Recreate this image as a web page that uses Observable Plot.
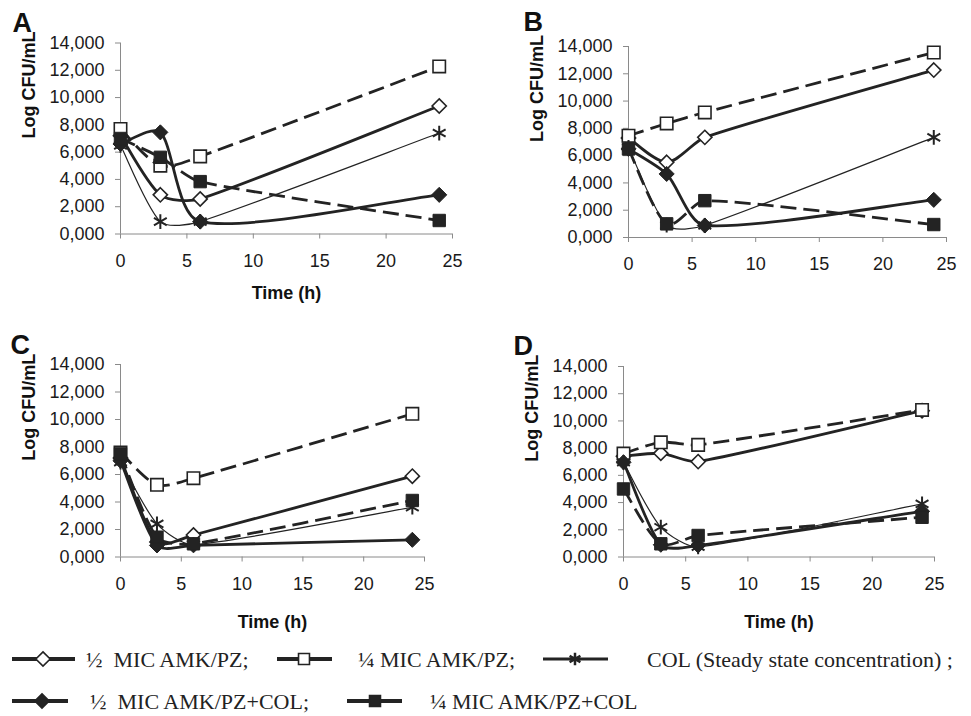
<!DOCTYPE html>
<html><head><meta charset="utf-8">
<script src="https://cdn.jsdelivr.net/npm/d3@7"></script>
<script src="https://cdn.jsdelivr.net/npm/@observablehq/plot@0.6"></script>
<style>
html,body{margin:0;padding:0;background:#fff;}
#root{position:relative;width:971px;height:716px;overflow:hidden;background:#fff;}
.panel{position:absolute;}
#legend{position:absolute;left:0;top:630px;}
</style></head><body><div id="root"></div>
<script>
// ---------------- data ----------------
const times = [0, 3, 6, 24];
const xTicks = [0, 5, 10, 15, 20, 25];
const yTicks = [0, 2, 4, 6, 8, 10, 12, 14];
const seriesLabels = ["½  MIC AMK/PZ;", "¼ MIC AMK/PZ;", "COL (Steady state concentration) ;", "½  MIC AMK/PZ+COL;", "¼ MIC AMK/PZ+COL"];
const panelLetters = ["A", "B", "C", "D"];

// Panel A (Log CFU/mL at 0, 3, 6, 24 h)
const A_half       = [7.2, 2.87, 2.57, 9.38];
const A_quarter    = [7.7, 5.01, 5.69, 12.28];
const A_col        = [6.5, 0.91, 0.91, 7.40];
const A_halfCol    = [6.6, 7.45, 0.91, 2.87];
const A_quarterCol = [7.0, 5.62, 3.84, 0.99];
// Panel B
const B_half       = [7.3, 5.51, 7.34, 12.27];
const B_quarter    = [7.46, 8.36, 9.17, 13.56];
const B_col        = [6.6, 0.9, 0.88, 7.34];
const B_halfCol    = [6.5, 4.66, 0.88, 2.76];
const B_quarterCol = [6.49, 1.0, 2.7, 0.95];
// Panel C
const C_half       = [7.2, 1.1, 1.6, 5.88];
const C_quarter    = [7.6, 5.25, 5.73, 10.41];
const C_col        = [6.9, 2.41, 0.9, 3.62];
const C_halfCol    = [7.0, 0.84, 0.85, 1.25];
const C_quarterCol = [7.5, 1.44, 0.96, 4.11];
// Panel D
const D_half       = [7.4, 7.62, 7.01, 10.75];
const D_quarter    = [7.6, 8.43, 8.24, 10.81];
const D_col        = [6.96, 2.19, 0.75, 3.9];
const D_halfCol    = [6.96, 0.9, 0.85, 3.36];
const D_quarterCol = [5.0, 0.97, 1.58, 2.92];

// ---------------- styles / layout ----------------
const INK = "#232323";
const AXIS = "#8a8a8a";
const seriesStyles = [
  {symbol: "diamond2", fill: "white", dash: null, width: 2.8, r: 6.4, sw: 1.6},
  {symbol: "square", fill: "white", dash: "16,7", width: 2.8, r: 7, sw: 1.6},
  {symbol: "asterisk", fill: "none", dash: null, width: 1.2, r: 7, sw: 2},
  {symbol: "diamond2", fill: INK, dash: null, width: 2.8, r: 6.8, sw: 1},
  {symbol: "square", fill: INK, dash: "16,7", width: 2.8, r: 7, sw: 1}
];
const panels = [
  {vals: [A_half, A_quarter, A_col, A_halfCol, A_quarterCol], left: 0, top: 0, width: 480, height: 310,
   mL: 120, mR: 28, mT: 42.5, mB: 76.5, letterDx: -108, letterDy: -20, timeDy: 59.5, showTime: true},
  {vals: [B_half, B_quarter, B_col, B_halfCol, B_quarterCol], left: 480, top: 0, width: 491, height: 310,
   mL: 148, mR: 25, mT: 46, mB: 73, letterDx: -105, letterDy: -24, timeDy: 59.5, showTime: false},
  {vals: [C_half, C_quarter, C_col, C_halfCol, C_quarterCol], left: 0, top: 300, width: 480, height: 340,
   mL: 120, mR: 56, mT: 64, mB: 83.5, letterDx: -110, letterDy: -19, timeDy: 65.5, showTime: true},
  {vals: [D_half, D_quarter, D_col, D_halfCol, D_quarterCol], left: 480, top: 300, width: 491, height: 340,
   mL: 143, mR: 37, mT: 66, mB: 83.5, letterDx: -110, letterDy: -20, timeDy: 65.5, showTime: true}
];

// Spreadsheet-style smoothing: cardinal tangents (1/6) with control arms
// limited relative to the adjacent segment length (avoids loops on short segments).
function SmoothCurve(context) { this._context = context; }
SmoothCurve.prototype = {
  areaStart() {}, areaEnd() {},
  lineStart() { this._pts = []; },
  point(x, y) { this._pts.push([+x, +y]); },
  lineEnd() {
    const p = this._pts, n = p.length, ctx = this._context, c = 0.25;
    if (!n) return;
    ctx.moveTo(p[0][0], p[0][1]);
    if (n === 1) return;
    const tan = i => {
      const a = p[Math.max(i - 1, 0)], b = p[Math.min(i + 1, n - 1)];
      return [(b[0] - a[0]) / 6, (b[1] - a[1]) / 6];
    };
    const clamp = (t, d) => {
      const m = Math.hypot(t[0], t[1]);
      const s = m > c * d ? (c * d) / m : 1;
      return [t[0] * s, t[1] * s];
    };
    for (let i = 0; i < n - 1; i++) {
      const d = Math.hypot(p[i + 1][0] - p[i][0], p[i + 1][1] - p[i][1]);
      const a = clamp(tan(i), d), b = clamp(tan(i + 1), d);
      ctx.bezierCurveTo(p[i][0] + a[0], p[i][1] + a[1], p[i + 1][0] - b[0], p[i + 1][1] - b[1], p[i + 1][0], p[i + 1][1]);
    }
  }
};
const curveSmooth = ctx => new SmoothCurve(ctx);

const fmtY = d => d.toFixed(3).replace(".", ",");
const root = document.getElementById("root");
const SANS = "'Liberation Sans', Arial, sans-serif";

panels.forEach((p, pi) => {
  const marks = [
    Plot.ruleY([0], {x1: 0, x2: 25, stroke: AXIS, strokeWidth: 1}),
    Plot.ruleX([0], {y1: 0, y2: 14, stroke: AXIS, strokeWidth: 1}),
    Plot.axisX({ticks: xTicks, tickSize: 5, tickPadding: 15, stroke: AXIS, fill: "#1a1a1a", label: null,
      fontSize: 18, fontFamily: SANS, tickFormat: d => String(d)}),
    Plot.axisY({ticks: yTicks, tickSize: 5, tickPadding: 11, stroke: AXIS, fill: "#1a1a1a", label: null,
      fontSize: 18, fontFamily: SANS, tickFormat: fmtY})
  ];
  p.vals.forEach((arr, si) => {
    const st = seriesStyles[si];
    const rows = times.map((t, j) => ({t, v: arr[j]}));
    marks.push(Plot.line(rows, {x: "t", y: "v", curve: curveSmooth, stroke: INK, strokeWidth: st.width,
      strokeDasharray: st.dash || undefined, strokeLinecap: st.dash ? "butt" : "round"}));
    marks.push(Plot.dot(rows, {x: "t", y: "v", symbol: st.symbol, r: st.r, fill: st.fill, stroke: INK, strokeWidth: st.sw}));
  });
  marks.push(Plot.text([panelLetters[pi]], {text: d => d, frameAnchor: "top-left", dx: p.letterDx, dy: p.letterDy,
    textAnchor: "start", lineAnchor: "middle", fontSize: 27, fontWeight: "bold", fontFamily: SANS, fill: "#111"}));
  marks.push(Plot.text(["Log CFU/mL"], {text: d => d, frameAnchor: "left", dx: -91, rotate: -90,
    lineAnchor: "middle", fontSize: 18, fontWeight: "bold", fontFamily: SANS, fill: "#111"}));
  if (p.showTime) marks.push(Plot.text(["Time (h)"], {text: d => d, frameAnchor: "bottom", dy: p.timeDy,
    lineAnchor: "middle", fontSize: 18, fontWeight: "bold", fontFamily: SANS, fill: "#111"}));

  const chart = Plot.plot({
    width: p.width, height: p.height,
    marginLeft: p.mL, marginRight: p.mR, marginTop: p.mT, marginBottom: p.mB,
    x: {domain: [0, 25]},
    y: {domain: [0, 14]},
    style: {fontFamily: SANS, fontSize: "18px", background: "transparent", overflow: "visible", color: "#1a1a1a"},
    marks
  });
  const div = document.createElement("div");
  div.className = "panel";
  div.style.left = p.left + "px";
  div.style.top = p.top + "px";
  div.appendChild(chart);
  root.appendChild(div);
});

// ---------------- legend ----------------
const legendItems = [
  {row: 0, x1: 12, x2: 75, mx: 43, tx: 86, lw: 4},
  {row: 0, x1: 277, x2: 332, mx: 304, tx: 358, lw: 4},
  {row: 0, x1: 543, x2: 608, mx: 575, tx: 647, lw: 3},
  {row: 1, x1: 12, x2: 68, mx: 42, tx: 90, lw: 4},
  {row: 1, x1: 347, x2: 402, mx: 375, tx: 430, lw: 4}
];
const rowY = [29, 71];
const lg = d3.select(root).append("svg").attr("id", "legend").attr("width", 971).attr("height", 86);
legendItems.forEach((it, i) => {
  const st = seriesStyles[i];
  const y = rowY[it.row];
  lg.append("line").attr("x1", it.x1).attr("x2", it.x2).attr("y1", y).attr("y2", y)
    .attr("stroke", INK).attr("stroke-width", it.lw);
  const sym = {diamond2: d3.symbolDiamond2, square: d3.symbolSquare, asterisk: d3.symbolAsterisk}[st.symbol];
  const size = st.symbol === "square" ? 120 : (st.symbol === "asterisk" ? 110 : 130);
  lg.append("path").attr("d", d3.symbol(sym, size)()).attr("transform", `translate(${it.mx},${y})`)
    .attr("fill", st.symbol === "asterisk" ? "none" : st.fill).attr("stroke", INK)
    .attr("stroke-width", st.symbol === "asterisk" ? 2.5 : 1.6);
  lg.append("text").attr("x", it.tx).attr("y", y).attr("dy", "0.35em")
    .style("white-space", "pre")
    .attr("font-family", "'Liberation Serif', 'Times New Roman', serif").attr("font-size", 22).attr("fill", "#222")
    .text(seriesLabels[i]);
});
</script>
</body></html>
